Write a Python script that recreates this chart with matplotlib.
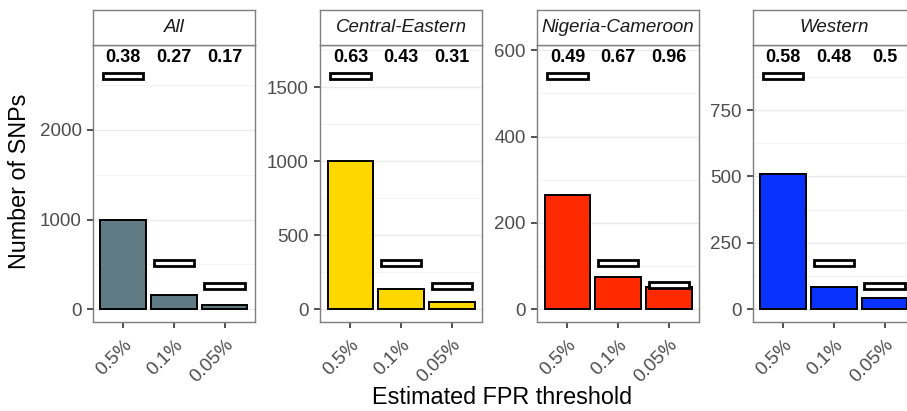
import numpy as np
from matplotlib import pyplot as plt
from matplotlib.patches import Rectangle
from matplotlib.transforms import ScaledTranslation

plt.rcParams['font.family'] = ['Liberation Sans', 'DejaVu Sans']

PANELS = ['All', 'Central-Eastern', 'Nigeria-Cameroon', 'Western']
THRESHOLDS = ['0.5%', '0.1%', '0.05%']
COLOURS = ['#607b83', '#ffd700', '#ff2a00', '#0a32ff']

observed = [
    [1000, 155, 45],
    [1000, 135, 49],
    [265, 75, 52],
    [510, 85, 42],
]
expected = [
    [2600, 520, 260],
    [1575, 315, 157],
    [540, 108, 55],
    [878, 175, 87],
]
ratios = [
    ['0.38', '0.27', '0.17'],
    ['0.63', '0.43', '0.31'],
    ['0.49', '0.67', '0.96'],
    ['0.58', '0.48', '0.5'],
]
yticks = [
    [0, 1000, 2000],
    [0, 500, 1000, 1500],
    [0, 200, 400, 600],
    [0, 250, 500, 750],
]

W, H = 907, 411
fig = plt.figure(figsize=(W / 100, H / 100), dpi=100)

lefts = [92.7, 320, 537, 752.7]
pw = 162.3
top_px, strip_px, bot_px = 45, 35, 321.7
ax_h = (bot_px - top_px) / H
box_px = 6  # height of the white boxes in pixels

x = np.arange(1, 4)
for i, name in enumerate(PANELS):
    ax = fig.add_axes([lefts[i] / W, 1 - bot_px / H, pw / W, ax_h])
    ymax = 1.08 * max(expected[i])
    lo, hi = -0.05 * ymax, 1.05 * ymax
    ax.set_ylim(lo, hi)
    ax.set_xlim(0.4, 3.6)

    step = yticks[i][1]
    minor = np.arange(step / 2, hi, step)
    for m in minor:
        ax.axhline(m, color='#f3f3f3', lw=0.6, zorder=0)
    for t in yticks[i]:
        ax.axhline(t, color='#ebebeb', lw=1.0, zorder=0)

    ax.bar(x, observed[i], width=0.9, color=COLOURS[i], edgecolor='black',
           linewidth=1.4, zorder=2)

    dh = box_px * (hi - lo) / (ax_h * H)
    for xi, e in zip(x, expected[i]):
        ax.add_patch(Rectangle((xi - 0.4, e - dh / 2), 0.8, dh, facecolor='white',
                               edgecolor='black', linewidth=2.0, zorder=3))
    for xi, r in zip(x, ratios[i]):
        ax.text(xi, ymax, r, ha='center', va='center', fontsize=13,
                fontweight='bold', color='black', zorder=4)

    ax.set_yticks(yticks[i])
    ax.set_yticklabels([str(t) for t in yticks[i]])
    ax.set_xticks(x)
    ax.set_xticklabels(THRESHOLDS, rotation=45, ha='right', va='top',
                       rotation_mode='anchor')
    shift = ScaledTranslation(6 / 100, -2 / 100, fig.dpi_scale_trans)
    for lab in ax.get_xticklabels():
        lab.set_transform(lab.get_transform() + shift)
    ax.tick_params(axis='both', colors='#333333', labelcolor='#4d4d4d',
                   labelsize=13.5, length=4.5, width=1.2)
    ax.tick_params(axis='x', pad=6)
    for s in ax.spines.values():
        s.set_color('#7f7f7f')
        s.set_linewidth(1.0)

    sax = fig.add_axes([lefts[i] / W, 1 - top_px / H, pw / W, strip_px / H])
    sax.set_xticks([])
    sax.set_yticks([])
    for s in sax.spines.values():
        s.set_color('#7f7f7f')
        s.set_linewidth(1.0)
    sax.text(0.5, 0.5, name, ha='center', va='center', fontsize=13.5,
             style='italic', color='#1a1a1a', transform=sax.transAxes)

fig.text(20 / W, 1 - 181 / H, 'Number of SNPs', rotation=90, ha='center',
         va='center', fontsize=16.8)
fig.text(502 / W, 1 - 397 / H, 'Estimated FPR threshold', ha='center',
         va='center', fontsize=16.8)

fig.savefig('out.png', dpi=100)
